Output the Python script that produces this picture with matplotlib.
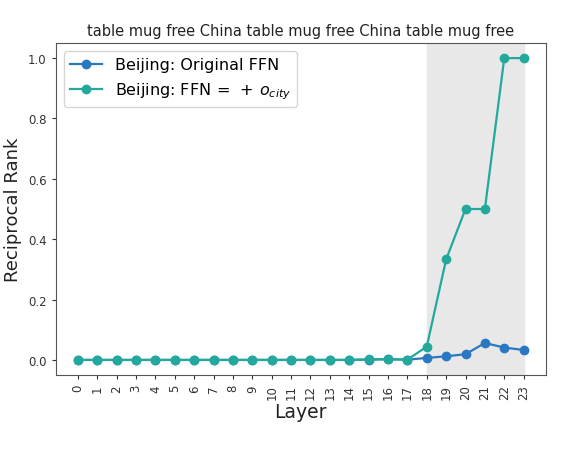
import matplotlib
matplotlib.use("Agg")
import matplotlib.pyplot as plt

layers = list(range(24))

# reciprocal rank of "Beijing" per layer
original_ffn = [0.0, 0.0, 0.0, 0.0, 0.0, 0.0, 0.0, 0.0, 0.0, 0.0, 0.0, 0.0,
                0.0, 0.0, 0.0, 0.001, 0.002, 0.001, 0.0066, 0.012, 0.019, 0.056, 0.041, 0.033]
ffn_plus_city = [0.0, 0.0, 0.0, 0.0, 0.0, 0.0, 0.0, 0.0, 0.0, 0.0, 0.0, 0.0,
                 0.0, 0.0, 0.0, 0.002, 0.003, 0.001, 0.044, 0.333, 0.5, 0.5, 1.0, 1.0]

title = "table mug free China table mug free China table mug free"

fig = plt.figure(figsize=(5.82, 4.56), dpi=100)
ax = fig.add_axes([0.0957, 0.1754, 0.8423, 0.7281])

# shaded upper layers
ax.axvspan(18, 23, color='#e8e8e8', zorder=0)

ax.plot(layers, original_ffn, marker='o', color='#2a77c2', lw=1.6, ms=6,
        label='Beijing: Original FFN')
ax.plot(layers, ffn_plus_city, marker='o', color='#22a99c', lw=1.6, ms=6,
        label=r'Beijing: FFN$\,=\;+\,o_{city}$')

ax.set_xticks(layers)
ax.set_xticklabels([str(l) for l in layers], rotation=90)
ax.set_yticks([0.0, 0.2, 0.4, 0.6, 0.8, 1.0])
ax.tick_params(labelsize=8.5, colors='#333333', length=3)
for s in ax.spines.values():
    s.set_color('#555555')

ax.set_xlabel('Layer', fontsize=13.5, color='#222222', labelpad=2)
ax.set_ylabel('Reciprocal Rank', fontsize=13, color='#222222')
ax.set_title(title, fontsize=10.5, color='#222222', pad=6)
ax.legend(loc='upper left', fontsize=11.5)

fig.savefig('out.png', dpi=100)
